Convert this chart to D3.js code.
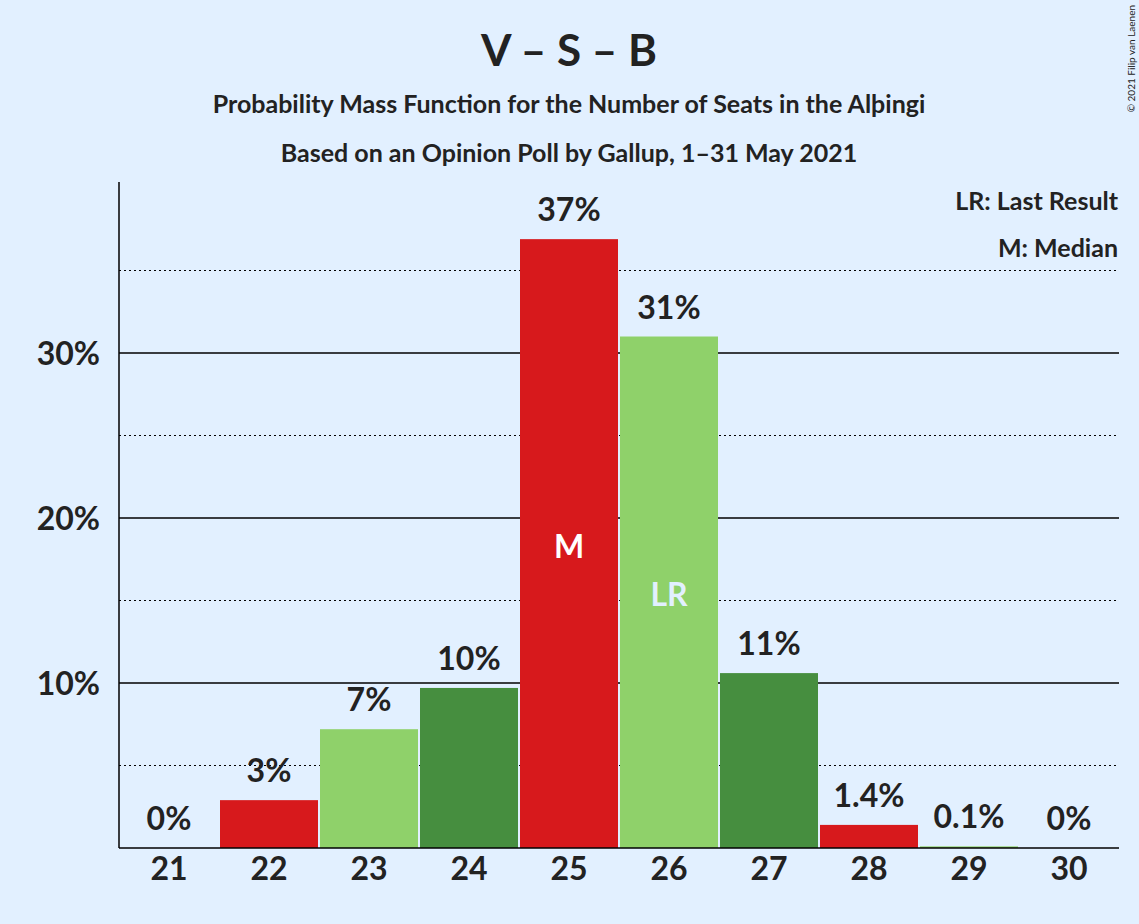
<!DOCTYPE html>
<html><head><meta charset="utf-8">
<script src="https://cdn.jsdelivr.net/npm/d3@7"></script>
<style>body{margin:0;background:#e2f0ff}text{font-family:Lato,sans-serif;font-weight:bold;fill:#222}</style>
</head><body><svg id="c" width="1139" height="924"></svg>
<script>
const seats=["21","22","23","24","25","26","27","28","29","30"];
const probs=[0,2.9,7.2,9.7,36.9,31.0,10.6,1.4,0.1,0];
const labels=["0%","3%","7%","10%","37%","31%","11%","1.4%","0.1%","0%"];
const colors=["#d7191c","#d7191c","#8fd16a","#468e3f","#d7191c","#8fd16a","#468e3f","#d7191c","#8fd16a","#468e3f"];
const solidTicks=[10,20,30], dottedTicks=[5,15,25,35];
const svg=d3.select("#c");
svg.append("rect").attr("width",1139).attr("height",924).attr("fill","#e2f0ff");
const x=d3.scaleBand().domain(seats).range([119,1119]).padding(0);
const y=d3.scaleLinear().domain([0,10]).range([848,683]);
svg.selectAll(".s").data(solidTicks).enter().append("line").attr("x1",119).attr("x2",1119).attr("y1",d=>y(d)).attr("y2",d=>y(d)).attr("stroke","#000").attr("stroke-width",1.5);
svg.selectAll(".d").data(dottedTicks).enter().append("line").attr("x1",119).attr("x2",1119).attr("y1",d=>y(d)).attr("y2",d=>y(d)).attr("stroke","#000").attr("stroke-dasharray","2,3");
svg.selectAll(".b").data(probs).enter().append("rect").attr("x",(d,i)=>x(seats[i])+1).attr("width",x.bandwidth()-2).attr("y",d=>y(d)).attr("height",d=>848-y(d)).attr("fill",(d,i)=>colors[i]);
svg.selectAll(".l").data(probs).enter().append("text").attr("x",(d,i)=>x(seats[i])+50).attr("y",d=>y(d)-18).attr("text-anchor","middle").attr("font-size",32).text((d,i)=>labels[i]);
svg.append("text").attr("x",x("25")+50).attr("y",558).attr("text-anchor","middle").attr("font-size",32).style("fill","#fff").text("M");
svg.append("text").attr("x",x("26")+50).attr("y",606).attr("text-anchor","middle").attr("font-size",32).style("fill","#e2f0ff").text("LR");
svg.append("line").attr("x1",119).attr("x2",119).attr("y1",182).attr("y2",848).attr("stroke","#000").attr("stroke-width",1.5);
svg.append("line").attr("x1",119).attr("x2",1119).attr("y1",848).attr("y2",848).attr("stroke","#000").attr("stroke-width",1.5);
svg.selectAll(".xt").data(seats).enter().append("text").attr("x",d=>x(d)+50).attr("y",880).attr("text-anchor","middle").attr("font-size",32).text(d=>d);
svg.selectAll(".yt").data(solidTicks).enter().append("text").attr("x",100).attr("y",d=>y(d)+12).attr("text-anchor","end").attr("font-size",32).text(d=>d+"%");
svg.append("text").attr("x",569).attr("y",66).attr("text-anchor","middle").attr("font-size",44).text("V – S – B");
svg.append("text").attr("x",569).attr("y",113).attr("text-anchor","middle").attr("font-size",25).text("Probability Mass Function for the Number of Seats in the Alþingi");
svg.append("text").attr("x",569).attr("y",162).attr("text-anchor","middle").attr("font-size",25).text("Based on an Opinion Poll by Gallup, 1–31 May 2021");
svg.append("text").attr("x",1118).attr("y",210).attr("text-anchor","end").attr("font-size",25).text("LR: Last Result");
svg.append("text").attr("x",1118).attr("y",257).attr("text-anchor","end").attr("font-size",25).text("M: Median");
svg.append("text").attr("transform","translate(1135,5) rotate(-90)").attr("text-anchor","end").attr("font-size",10).style("font-weight","normal").text("© 2021 Filip van Laenen");
</script></body></html>
